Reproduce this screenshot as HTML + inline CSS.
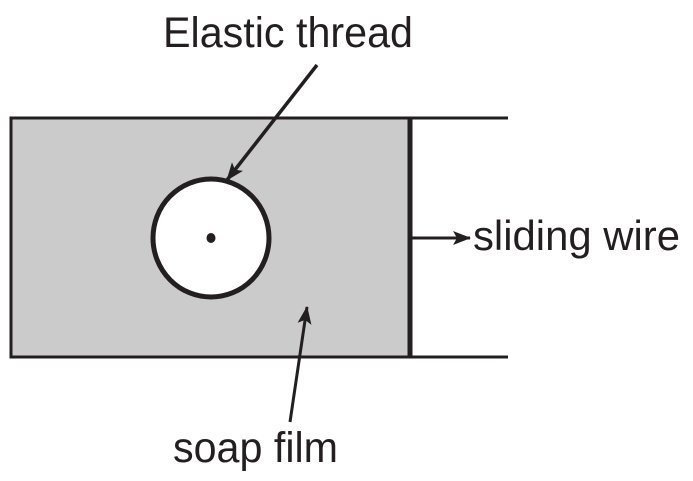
<!DOCTYPE html>
<html><head><style>body{margin:0;background:#fff}</style></head><body>
<svg width="693" height="476" xmlns="http://www.w3.org/2000/svg" font-family="Liberation Sans, sans-serif">
<defs>
<marker id="b" markerWidth="18" markerHeight="14" refX="17" refY="7" orient="auto" markerUnits="userSpaceOnUse"><path d="M0,0 L18,7 L0,14 L4,7Z" fill="#231f20"/></marker></defs>
<rect x="11" y="118" width="399" height="239" fill="#cbcbcb" stroke="#231f20" stroke-width="3"/>
<line x1="11" y1="118" x2="508" y2="118" stroke="#231f20" stroke-width="3"/>
<line x1="11" y1="357" x2="508" y2="357" stroke="#231f20" stroke-width="3"/>
<line x1="410" y1="117" x2="410" y2="358" stroke="#231f20" stroke-width="5"/>
<ellipse cx="211" cy="238" rx="58" ry="59" fill="#fff" stroke="#231f20" stroke-width="5"/>
<ellipse cx="211" cy="238" rx="4.5" ry="5" fill="#231f20"/>
<line x1="317" y1="65" x2="227" y2="180" stroke="#231f20" stroke-width="3.5" marker-end="url(#b)"/>
<line x1="412" y1="238" x2="470" y2="238" stroke="#231f20" stroke-width="3" marker-end="url(#b)"/>
<line x1="290" y1="422" x2="307" y2="307" stroke="#231f20" stroke-width="3" marker-end="url(#b)"/>
<text x="163" y="47" font-size="43" textLength="250" lengthAdjust="spacingAndGlyphs" fill="#231f20">Elastic thread</text>
<text x="473" y="250" font-size="42" textLength="207" lengthAdjust="spacingAndGlyphs" fill="#231f20">sliding wire</text>
<text x="173" y="462" font-size="43" textLength="165" lengthAdjust="spacingAndGlyphs" fill="#231f20">soap film</text>
</svg>
</body></html>
